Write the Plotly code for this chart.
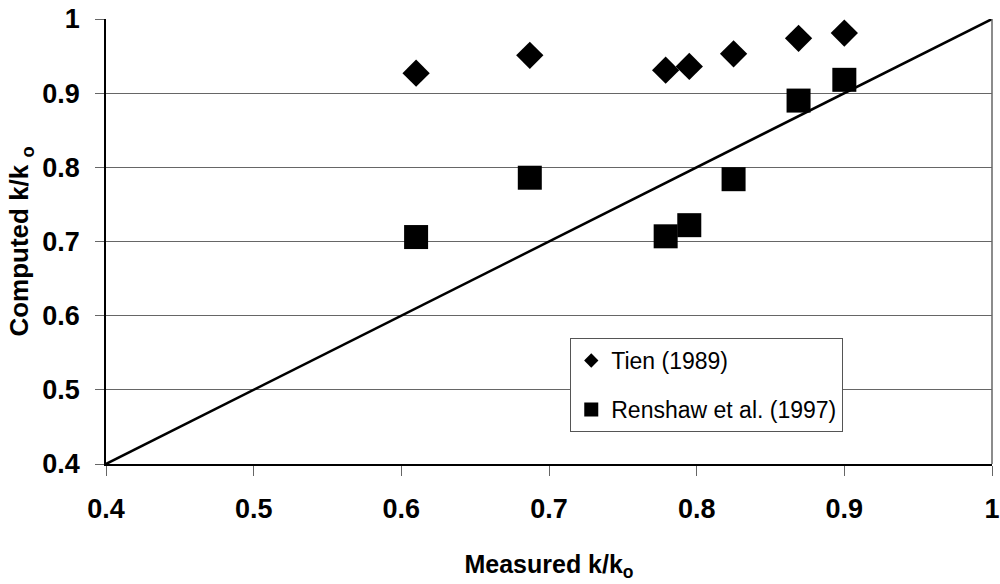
import plotly.graph_objects as go

# Measured vs computed permeability ratio k/k0
measured = [0.61, 0.687, 0.779, 0.795, 0.825, 0.869, 0.90]
tien_1989 = [0.927, 0.951, 0.931, 0.936, 0.953, 0.974, 0.981]
renshaw_1997 = [0.706, 0.786, 0.707, 0.722, 0.784, 0.890, 0.918]

# 1:1 reference line
diag_x = [0.4, 1.0]
diag_y = [0.4, 1.0]

tick_vals = [0.4, 0.5, 0.6, 0.7, 0.8, 0.9, 1.0]
tick_text = ["0.4", "0.5", "0.6", "0.7", "0.8", "0.9", "1"]

FONT = "Liberation Sans, Arial, sans-serif"

fig = go.Figure()

fig.add_trace(go.Scatter(
    x=diag_x, y=diag_y, mode="lines",
    line=dict(color="black", width=2.5),
    showlegend=False, hoverinfo="skip",
))

fig.add_trace(go.Scatter(
    x=measured, y=tien_1989, mode="markers",
    marker=dict(symbol="diamond", size=21, color="black"),
    showlegend=False,
))
fig.add_trace(go.Scatter(
    x=measured, y=renshaw_1997, mode="markers",
    marker=dict(symbol="square", size=24, color="black"),
    showlegend=False,
))

# legend entries with compact symbols
fig.add_trace(go.Scatter(
    x=[None], y=[None], mode="markers", name="Tien (1989)",
    marker=dict(symbol="diamond", size=11, color="black"),
    legendgroup="a",
))
fig.add_trace(go.Scatter(
    x=[None], y=[None], mode="markers", name="Renshaw et al. (1997)",
    marker=dict(symbol="square", size=14, color="black"),
    legendgroup="b",
))

fig.update_layout(
    width=1000, height=584,
    margin=dict(l=106, r=8, t=19, b=120, autoexpand=False),
    plot_bgcolor="white", paper_bgcolor="white",
    font=dict(family=FONT, color="black"),
    legend=dict(
        x=0.524, y=0.283, xanchor="left", yanchor="top",
        bordercolor="#555555", borderwidth=1, bgcolor="white",
        font=dict(family=FONT, size=23, color="black"),
        tracegroupgap=16, entrywidth=272,
        itemwidth=30,
    ),
)

fig.update_xaxes(
    range=[0.4, 1.0], tickvals=tick_vals, ticktext=tick_text,
    automargin=False,
    showline=True, linecolor="black", linewidth=1.5,
    mirror=False, showgrid=False, zeroline=False,
    ticks="outside", ticklen=10, tickcolor="#666666", tickwidth=1,
    ticklabelstandoff=10, ticklabeloverflow="allow",
    tickfont=dict(family=FONT, size=27, color="black", weight="bold"),
    title=dict(text="Measured k/k<sub>o</sub>", standoff=32,
               font=dict(family=FONT, size=25, color="black", weight="bold")),
)
fig.update_yaxes(
    range=[0.4, 1.0], tickvals=tick_vals, ticktext=tick_text,
    automargin=False,
    showline=True, linecolor="black", linewidth=1.5,
    showgrid=True, gridcolor="#666666", gridwidth=1, zeroline=False,
    ticks="outside", ticklen=9, tickcolor="#666666", tickwidth=1,
    ticklabelstandoff=10, ticklabeloverflow="allow",
    tickfont=dict(family=FONT, size=27, color="black", weight="bold"),
    title=dict(text="Computed k/k <sub>o</sub>", standoff=6,
               font=dict(family=FONT, size=26, color="black", weight="bold")),
)

# right-hand border of the plot area
fig.add_shape(type="line", xref="paper", yref="paper", x0=1, x1=1, y0=0, y1=1,
              line=dict(color="#666666", width=1.5))

fig.write_html("out.html")
